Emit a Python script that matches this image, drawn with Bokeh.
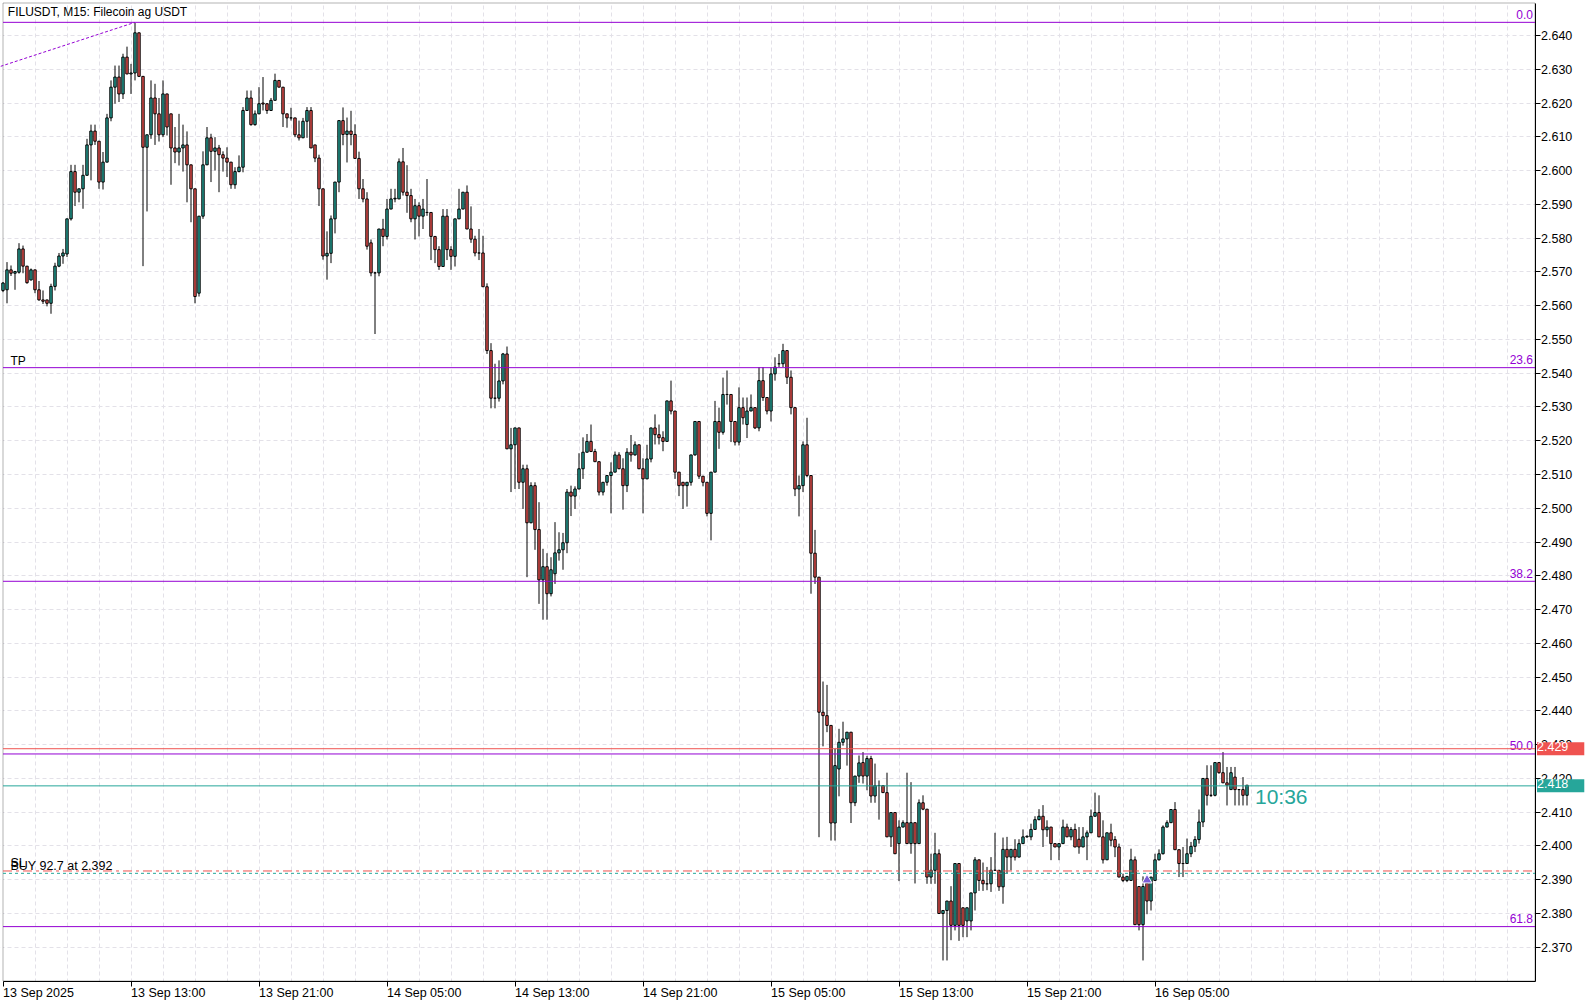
from bokeh.plotting import figure
from bokeh.models import (Range1d, FixedTicker, SingleIntervalTicker, NumeralTickFormatter,
                          Label, ColumnDataSource, BoxAnnotation)
from bokeh.core.properties import value
from bokeh.embed import file_html
from bokeh.resources import INLINE

symbol_title = "FILUSDT, M15:  Filecoin ag USDT"

opens = [
2.5645, 2.5647, 2.5706, 2.5696, 2.5699, 2.5768, 2.5717, 2.5676, 2.5706, 2.5647,
2.5617, 2.5617, 2.5607, 2.5657, 2.5717, 2.5747, 2.5753, 2.5857, 2.5997, 2.5936,
2.5946, 2.5986, 2.6076, 2.6117, 2.6087, 2.5966, 2.6025, 2.6156, 2.6247, 2.6277,
2.6227, 2.6336, 2.6286, 2.6289, 2.6408, 2.6279, 2.6069, 2.6106, 2.6215, 2.6168,
2.6106, 2.6227, 2.6168, 2.6067, 2.6055, 2.6067, 2.6076, 2.6017, 2.5946, 2.5637,
2.5865, 2.6017, 2.6097, 2.6057, 2.6067, 2.6047, 2.6037, 2.6025, 2.5958, 2.5997,
2.6010, 2.6178, 2.6215, 2.6136, 2.6168, 2.6200, 2.6198, 2.6178, 2.6208, 2.6267,
2.6247, 2.6168, 2.6156, 2.6156, 2.6106, 2.6097, 2.6146, 2.6178, 2.6076, 2.6037,
2.5946, 2.5747, 2.5755, 2.5857, 2.5966, 2.6148, 2.6107, 2.6117, 2.6107, 2.6036,
2.5946, 2.5916, 2.5786, 2.5697, 2.5697, 2.5827, 2.5805, 2.5886, 2.5916, 2.5916,
2.6026, 2.5936, 2.5926, 2.5857, 2.5896, 2.5865, 2.5876, 2.5876, 2.5805, 2.5766,
2.5716, 2.5865, 2.5766, 2.5746, 2.5857, 2.5886, 2.5936, 2.5827, 2.5797, 2.5756,
2.5756, 2.5656, 2.5467, 2.5326, 2.5326, 2.5377, 2.5457, 2.5176, 2.5188, 2.5238,
2.5077, 2.5117, 2.4957, 2.5067, 2.4937, 2.4788, 2.4827, 2.4747, 2.4806, 2.4868,
2.4877, 2.4898, 2.5048, 2.5036, 2.5057, 2.5117, 2.5166, 2.5198, 2.5168, 2.5138,
2.5048, 2.5077, 2.5097, 2.5107, 2.5158, 2.5117, 2.5067, 2.5166, 2.5158, 2.5188,
2.5117, 2.5087, 2.5146, 2.5238, 2.5218, 2.5209, 2.5198, 2.5318, 2.5288, 2.5107,
2.5077, 2.5067, 2.5077, 2.5158, 2.5257, 2.5095, 2.5077, 2.4985, 2.5107, 2.5257,
2.5225, 2.5337, 2.5337, 2.5257, 2.5196, 2.5298, 2.5248, 2.5288, 2.5298, 2.5238,
2.5378, 2.5328, 2.5288, 2.5398, 2.5428, 2.5428, 2.5467, 2.5388, 2.5298, 2.5057,
2.5067, 2.5188, 2.5097, 2.4867, 2.4796, 2.4396, 2.4386, 2.4357, 2.4068, 2.4228,
2.4307, 2.4317, 2.4337, 2.4128, 2.4207, 2.4247, 2.4207, 2.4259, 2.4148, 2.4179,
2.4179, 2.4158, 2.4027, 2.4099, 2.4007, 2.4056, 2.4069, 2.4007, 2.4069, 2.4007,
2.4128, 2.4109, 2.3908, 2.3928, 2.3977, 2.3800, 2.3809, 2.3837, 2.3765, 2.3948,
2.3817, 2.3778, 2.3778, 2.3861, 2.3959, 2.3898, 2.3888, 2.3888, 2.3928, 2.3928,
2.3879, 2.3990, 2.3967, 2.3990, 2.3967, 2.4007, 2.4027, 2.4027, 2.4049, 2.4078,
2.4088, 2.4048, 2.4056, 2.4007, 2.3997, 2.4007, 2.4056, 2.4027, 2.4049, 2.4020,
2.3997, 2.4027, 2.4039, 2.4088, 2.4099, 2.4027, 2.3959, 2.4039, 2.4019, 2.3997,
2.3908, 2.3898, 2.3898, 2.3959, 2.3880, 2.3767, 2.3890, 2.3837, 2.3898, 2.3959,
2.3977, 2.4056, 2.4069, 2.4108, 2.3989, 2.3948, 2.3948, 2.3977, 2.3999, 2.4019,
2.4071, 2.4200, 2.4150, 2.4150, 2.4247, 2.4217, 2.4187, 2.4167, 2.4204, 2.4167,
2.4167, 2.4150,
]

highs = [
2.5670, 2.5729, 2.5719, 2.5703, 2.5785, 2.5778, 2.5717, 2.5710, 2.5706, 2.5673,
2.5645, 2.5617, 2.5665, 2.5727, 2.5756, 2.5768, 2.5857, 2.6017, 2.6017, 2.5946,
2.6017, 2.6094, 2.6136, 2.6136, 2.6087, 2.6055, 2.6168, 2.6267, 2.6311, 2.6311,
2.6346, 2.6367, 2.6316, 2.6437, 2.6408, 2.6279, 2.6106, 2.6267, 2.6257, 2.6215,
2.6267, 2.6227, 2.6168, 2.6129, 2.6168, 2.6136, 2.6116, 2.6017, 2.5946, 2.5865,
2.6057, 2.6129, 2.6109, 2.6099, 2.6076, 2.6057, 2.6069, 2.6025, 2.6010, 2.6045,
2.6188, 2.6237, 2.6237, 2.6178, 2.6247, 2.6277, 2.6198, 2.6215, 2.6287, 2.6267,
2.6247, 2.6168, 2.6186, 2.6156, 2.6148, 2.6156, 2.6188, 2.6188, 2.6076, 2.6047,
2.5946, 2.5820, 2.5867, 2.5966, 2.6148, 2.6187, 2.6157, 2.6177, 2.6137, 2.6056,
2.5975, 2.5936, 2.5796, 2.5700, 2.5827, 2.5857, 2.5916, 2.5946, 2.5946, 2.6036,
2.6067, 2.6016, 2.5946, 2.5916, 2.5906, 2.5916, 2.5975, 2.5876, 2.5805, 2.5776,
2.5886, 2.5886, 2.5776, 2.5857, 2.5946, 2.5936, 2.5956, 2.5894, 2.5807, 2.5827,
2.5807, 2.5666, 2.5489, 2.5428, 2.5438, 2.5460, 2.5479, 2.5238, 2.5238, 2.5238,
2.5129, 2.5129, 2.5077, 2.5077, 2.5018, 2.4880, 2.4867, 2.4855, 2.4959, 2.4929,
2.4927, 2.5057, 2.5067, 2.5065, 2.5163, 2.5210, 2.5220, 2.5248, 2.5176, 2.5138,
2.5077, 2.5097, 2.5136, 2.5168, 2.5166, 2.5148, 2.5178, 2.5217, 2.5198, 2.5188,
2.5148, 2.5188, 2.5238, 2.5278, 2.5248, 2.5228, 2.5318, 2.5378, 2.5288, 2.5107,
2.5077, 2.5077, 2.5158, 2.5257, 2.5257, 2.5095, 2.5077, 2.5107, 2.5318, 2.5298,
2.5387, 2.5408, 2.5337, 2.5257, 2.5358, 2.5328, 2.5328, 2.5337, 2.5298, 2.5418,
2.5418, 2.5328, 2.5418, 2.5447, 2.5457, 2.5487, 2.5467, 2.5408, 2.5298, 2.5097,
2.5198, 2.5268, 2.5097, 2.4936, 2.4796, 2.4487, 2.4477, 2.4357, 2.4288, 2.4347,
2.4368, 2.4337, 2.4337, 2.4207, 2.4268, 2.4278, 2.4267, 2.4267, 2.4244, 2.4194,
2.4179, 2.4217, 2.4099, 2.4099, 2.4076, 2.4076, 2.4217, 2.4189, 2.4069, 2.4138,
2.4150, 2.4109, 2.3977, 2.4039, 2.3990, 2.3809, 2.3837, 2.3881, 2.3948, 2.3948,
2.3817, 2.3817, 2.3861, 2.3967, 2.3959, 2.3951, 2.3938, 2.3967, 2.4039, 2.3928,
2.4025, 2.4027, 2.3990, 2.4020, 2.4020, 2.4049, 2.4031, 2.4066, 2.4088, 2.4109,
2.4121, 2.4076, 2.4056, 2.4007, 2.4007, 2.4078, 2.4066, 2.4056, 2.4066, 2.4056,
2.4056, 2.4046, 2.4108, 2.4158, 2.4150, 2.4076, 2.4039, 2.4066, 2.4029, 2.4007,
2.3918, 2.3910, 2.3992, 2.3969, 2.3880, 2.3910, 2.3910, 2.3908, 2.3977, 2.3990,
2.4061, 2.4076, 2.4109, 2.4130, 2.3989, 2.3997, 2.4022, 2.4012, 2.4029, 2.4108,
2.4200, 2.4239, 2.4239, 2.4247, 2.4247, 2.4278, 2.4234, 2.4234, 2.4234, 2.4167,
2.4204, 2.4180,
]

lows = [
2.5640, 2.5607, 2.5688, 2.5647, 2.5695, 2.5696, 2.5665, 2.5675, 2.5637, 2.5615,
2.5605, 2.5598, 2.5576, 2.5645, 2.5714, 2.5724, 2.5744, 2.5852, 2.5895, 2.5906,
2.5887, 2.5986, 2.5971, 2.6076, 2.5946, 2.5944, 2.6025, 2.6146, 2.6198, 2.6203,
2.6212, 2.6286, 2.6227, 2.6267, 2.6277, 2.5717, 2.5879, 2.6094, 2.6076, 2.6086,
2.6099, 2.6104, 2.5958, 2.6022, 2.6015, 2.5997, 2.5906, 2.5847, 2.5607, 2.5627,
2.5857, 2.6017, 2.5966, 2.6000, 2.5936, 2.5997, 2.5981, 2.5946, 2.5946, 2.5995,
2.5995, 2.6178, 2.6133, 2.6133, 2.6168, 2.6178, 2.6168, 2.6178, 2.6208, 2.6247,
2.6129, 2.6127, 2.6148, 2.6099, 2.6089, 2.6097, 2.6097, 2.6067, 2.6025, 2.5895,
2.5736, 2.5677, 2.5726, 2.5814, 2.5936, 2.6075, 2.6024, 2.6075, 2.6036, 2.5916,
2.5906, 2.5766, 2.5687, 2.5516, 2.5687, 2.5776, 2.5796, 2.5886, 2.5906, 2.5916,
2.5926, 2.5875, 2.5847, 2.5796, 2.5805, 2.5827, 2.5866, 2.5735, 2.5726, 2.5706,
2.5716, 2.5735, 2.5706, 2.5716, 2.5857, 2.5886, 2.5827, 2.5786, 2.5746, 2.5735,
2.5656, 2.5457, 2.5296, 2.5296, 2.5316, 2.5367, 2.5176, 2.5048, 2.5057, 2.5057,
2.4998, 2.4796, 2.4956, 2.4877, 2.4717, 2.4670, 2.4670, 2.4739, 2.4776, 2.4845,
2.4818, 2.4867, 2.4977, 2.4998, 2.5057, 2.5087, 2.5166, 2.5168, 2.5138, 2.5038,
2.5038, 2.5067, 2.4985, 2.5107, 2.5117, 2.4996, 2.5048, 2.5138, 2.5156, 2.5117,
2.4985, 2.5087, 2.5136, 2.5189, 2.5189, 2.5169, 2.5198, 2.5278, 2.5087, 2.5036,
2.4998, 2.5005, 2.5067, 2.5156, 2.5087, 2.5065, 2.4976, 2.4905, 2.5107, 2.5176,
2.5218, 2.5307, 2.5196, 2.5186, 2.5186, 2.5248, 2.5208, 2.5288, 2.5235, 2.5228,
2.5318, 2.5278, 2.5257, 2.5378, 2.5418, 2.5418, 2.5368, 2.5278, 2.5036, 2.4976,
2.5048, 2.5092, 2.4747, 2.4776, 2.4026, 2.4295, 2.4337, 2.4016, 2.4016, 2.4147,
2.4297, 2.4238, 2.4068, 2.4118, 2.4187, 2.4185, 2.4165, 2.4128, 2.4128, 2.4078,
2.4158, 2.4027, 2.3997, 2.3977, 2.3896, 2.4056, 2.4007, 2.3977, 2.3889, 2.4007,
2.4106, 2.3888, 2.3888, 2.3888, 2.3800, 2.3661, 2.3661, 2.3721, 2.3750, 2.3719,
2.3730, 2.3730, 2.3750, 2.3809, 2.3867, 2.3867, 2.3869, 2.3864, 2.3928, 2.3867,
2.3829, 2.3918, 2.3928, 2.3957, 2.3967, 2.4007, 2.4024, 2.4017, 2.4048, 2.4076,
2.3997, 2.4027, 2.3958, 2.3997, 2.3958, 2.4007, 2.4027, 2.4017, 2.3997, 2.3977,
2.3997, 2.3958, 2.4039, 2.4088, 2.4027, 2.3948, 2.3959, 2.3999, 2.3967, 2.3908,
2.3893, 2.3893, 2.3898, 2.3767, 2.3750, 2.3661, 2.3798, 2.3809, 2.3898, 2.3957,
2.3975, 2.4056, 2.4069, 2.3989, 2.3908, 2.3908, 2.3948, 2.3967, 2.3982, 2.4007,
2.4056, 2.4120, 2.4145, 2.4147, 2.4214, 2.4187, 2.4120, 2.4167, 2.4120, 2.4120,
2.4120, 2.4120,
]

closes = [
2.5667, 2.5706, 2.5696, 2.5701, 2.5768, 2.5717, 2.5668, 2.5706, 2.5647, 2.5617,
2.5613, 2.5607, 2.5657, 2.5717, 2.5747, 2.5756, 2.5857, 2.5997, 2.5936, 2.5946,
2.5986, 2.6076, 2.6117, 2.6087, 2.5966, 2.6025, 2.6156, 2.6247, 2.6277, 2.6227,
2.6336, 2.6286, 2.6289, 2.6408, 2.6279, 2.6069, 2.6106, 2.6215, 2.6168, 2.6106,
2.6227, 2.6129, 2.6067, 2.6055, 2.6067, 2.6076, 2.6017, 2.5946, 2.5627, 2.5865,
2.6017, 2.6097, 2.6057, 2.6067, 2.6047, 2.6037, 2.6025, 2.5958, 2.5997, 2.6010,
2.6178, 2.6215, 2.6136, 2.6168, 2.6198, 2.6197, 2.6178, 2.6208, 2.6267, 2.6247,
2.6168, 2.6156, 2.6156, 2.6106, 2.6097, 2.6146, 2.6178, 2.6067, 2.6037, 2.5946,
2.5747, 2.5755, 2.5857, 2.5966, 2.6148, 2.6107, 2.6117, 2.6107, 2.6036, 2.5946,
2.5916, 2.5776, 2.5697, 2.5697, 2.5827, 2.5805, 2.5886, 2.5916, 2.5918, 2.6026,
2.5936, 2.5926, 2.5857, 2.5896, 2.5865, 2.5886, 2.5876, 2.5805, 2.5766, 2.5716,
2.5865, 2.5766, 2.5746, 2.5857, 2.5886, 2.5936, 2.5827, 2.5797, 2.5756, 2.5756,
2.5656, 2.5467, 2.5326, 2.5326, 2.5377, 2.5457, 2.5176, 2.5188, 2.5238, 2.5077,
2.5117, 2.4957, 2.5067, 2.4937, 2.4788, 2.4827, 2.4747, 2.4818, 2.4868, 2.4877,
2.4898, 2.5048, 2.5036, 2.5057, 2.5117, 2.5166, 2.5198, 2.5168, 2.5138, 2.5048,
2.5077, 2.5097, 2.5107, 2.5158, 2.5117, 2.5067, 2.5166, 2.5158, 2.5188, 2.5117,
2.5087, 2.5146, 2.5238, 2.5218, 2.5209, 2.5198, 2.5318, 2.5288, 2.5107, 2.5067,
2.5067, 2.5077, 2.5158, 2.5257, 2.5095, 2.5077, 2.4985, 2.5107, 2.5257, 2.5225,
2.5337, 2.5337, 2.5257, 2.5196, 2.5298, 2.5268, 2.5288, 2.5298, 2.5238, 2.5378,
2.5328, 2.5288, 2.5398, 2.5418, 2.5428, 2.5467, 2.5388, 2.5298, 2.5057, 2.5067,
2.5188, 2.5097, 2.4867, 2.4796, 2.4396, 2.4386, 2.4357, 2.4068, 2.4238, 2.4307,
2.4317, 2.4337, 2.4128, 2.4207, 2.4246, 2.4207, 2.4259, 2.4148, 2.4179, 2.4179,
2.4158, 2.4027, 2.4099, 2.3977, 2.4056, 2.4069, 2.4007, 2.4069, 2.4007, 2.4128,
2.4109, 2.3908, 2.3928, 2.3977, 2.3800, 2.3809, 2.3837, 2.3765, 2.3948, 2.3765,
2.3765, 2.3817, 2.3861, 2.3959, 2.3898, 2.3888, 2.3888, 2.3928, 2.3928, 2.3879,
2.3990, 2.3967, 2.3990, 2.3967, 2.4007, 2.4027, 2.4029, 2.4049, 2.4078, 2.4088,
2.4048, 2.4056, 2.4007, 2.3997, 2.4007, 2.4056, 2.4027, 2.4049, 2.3997, 2.3997,
2.4027, 2.4039, 2.4088, 2.4099, 2.4027, 2.3959, 2.4039, 2.4017, 2.3997, 2.3908,
2.3898, 2.3910, 2.3959, 2.3767, 2.3767, 2.3880, 2.3837, 2.3908, 2.3959, 2.3977,
2.4056, 2.4069, 2.4108, 2.3989, 2.3948, 2.3948, 2.3977, 2.3999, 2.4019, 2.4071,
2.4200, 2.4150, 2.4150, 2.4247, 2.4217, 2.4187, 2.4180, 2.4217, 2.4167, 2.4167,
2.4150, 2.4180,
]

tick_bars = [0, 32, 64, 96, 128, 160, 192, 224, 256, 288]
tick_labels = ["13 Sep 2025", "13 Sep 13:00", "13 Sep 21:00", "14 Sep 05:00", "14 Sep 13:00",
               "14 Sep 21:00", "15 Sep 05:00", "15 Sep 13:00", "15 Sep 21:00", "16 Sep 05:00"]

fib_high_bar, fib_high = 33, 2.6439
fib_low_bar, fib_low = -1084, 2.2106
fib_ratios = [0.0, 0.236, 0.382, 0.5, 0.618]
fib_names = ["0.0", "23.6", "38.2", "50.0", "61.8"]

ask_price = 2.4288
bid_price = 2.4178
sl_price = 2.3926
entry_price = 2.3919
tp_price = 2.5416
order_text = "BUY 92.7 at 2.392"
countdown = "10:36"
buy_bar, buy_arrow_price = 286, 2.3899

BULL = "#26a69a"
BEAR = "#ef5350"
FIB = "#9400d3"
GRID = "#e3e1e8"
FONT = "Liberation Sans"

n = len(opens)
bars = list(range(n))
highs = [max(h, o, c) for h, o, c in zip(highs, opens, closes)]
lows = [min(l, o, c) for l, o, c in zip(lows, opens, closes)]

# ---- canvas geometry (pixels <-> data) ----
W, H = 1588, 1003
BAR_PX = 4.0          # pixels per bar
PRICE_PX = 3377.0     # pixels per 1.0 of price
x_start = -2.5 / BAR_PX
x_end = x_start + W / BAR_PX
y_end = 2.640 + 35 / PRICE_PX
y_start = y_end - H / PRICE_PX

# chart box (inside the canvas)
x_left = x_start + 2.5 / BAR_PX
x_right = x_start + 1534.5 / BAR_PX
y_top = y_end - 2.5 / PRICE_PX
y_bottom = y_end - 980.5 / PRICE_PX

p = figure(width=W, height=H,
           x_range=Range1d(x_start, x_end), y_range=Range1d(y_start, y_end),
           y_axis_location="right", output_backend="svg", toolbar_location=None,
           min_border_left=0, min_border_top=0, min_border_right=0, min_border_bottom=0,
           background_fill_color="white", border_fill_color="white")
p.outline_line_color = None

# ---- axes, placed on the chart box edges ----
yticker = SingleIntervalTicker(interval=0.01, num_minor_ticks=0)
yax = p.yaxis[0]
yax.ticker = yticker
yax.formatter = NumeralTickFormatter(format="0.000")
yax.fixed_location = x_right
yax.bounds = (y_bottom, y_top)
yax.major_tick_out = 5
yax.major_tick_in = 0
yax.minor_tick_out = 0
yax.minor_tick_in = 0
yax.major_label_standoff = 1
yax.major_label_text_font = FONT
yax.major_label_text_font_size = "12.5px"
yax.major_label_text_color = "black"
yax.axis_line_color = "black"
yax.major_tick_line_color = "black"

xax = p.xaxis[0]
xax.ticker = FixedTicker(ticks=tick_bars)
xax.major_label_overrides = {t: "" for t in tick_bars}
xax.fixed_location = y_bottom
xax.bounds = (x_left, x_right)
xax.major_tick_out = 5
xax.major_tick_in = 0
xax.minor_tick_out = 0
xax.minor_tick_in = 0
xax.axis_line_color = "black"
xax.major_tick_line_color = "black"

p.xgrid.ticker = FixedTicker(ticks=list(range(8, int(x_right) + 1, 8)))
p.ygrid.ticker = yticker
for g in (p.xgrid, p.ygrid):
    g.grid_line_color = GRID
    g.grid_line_dash = "4 3"
    g.grid_line_width = 1

# keep the grid inside the chart box
for kw in (dict(left=x_right), dict(top=y_bottom), dict(right=x_left), dict(bottom=y_top)):
    p.add_layout(BoxAnnotation(fill_color="white", fill_alpha=1.0, line_color=None,
                               level="underlay", **kw))
p.add_layout(BoxAnnotation(left=x_left, right=x_right, top=y_top, bottom=y_bottom,
                           fill_alpha=0.0, line_color="black", line_width=1,
                           level="underlay"))

# ---- candles ----
src = ColumnDataSource(dict(
    x=bars, high=highs, low=lows,
    top=[max(o, c) for o, c in zip(opens, closes)],
    bottom=[min(o, c) for o, c in zip(opens, closes)],
    color=[BULL if c >= o else BEAR for o, c in zip(opens, closes)],
))
p.segment(x0="x", y0="low", x1="x", y1="high", source=src, line_color="black", line_width=1)
p.vbar(x="x", width=0.6, top="top", bottom="bottom", source=src,
       fill_color="color", line_color="black", line_width=1)

# ---- fibonacci object ----
p.line(x=[fib_low_bar, fib_high_bar], y=[fib_low, fib_high], line_color=FIB,
       line_width=1, line_dash="3 2")
fib_levels = [fib_high - r * (fib_high - fib_low) for r in fib_ratios]
k = len(fib_levels)
p.segment(x0=[x_left] * k, x1=[x_right] * k, y0=fib_levels, y1=fib_levels,
          line_color=FIB, line_width=1)
p.text(x=[x_right] * k, y=fib_levels, text=fib_names,
       text_align="right", text_baseline="alphabetic", x_offset=-2, y_offset=-8,
       text_font=value(FONT), text_font_size="12px", text_color=FIB)

# ---- price / trade lines ----
p.segment(x0=[x_left] * 2, x1=[x_right] * 2, y0=[ask_price, bid_price],
          y1=[ask_price, bid_price], line_color=[BEAR, BULL], line_width=1)
p.segment(x0=[x_left], x1=[x_right], y0=[sl_price], y1=[sl_price],
          line_color=BEAR, line_width=1, line_dash="9 4 3 4")
p.segment(x0=[x_left], x1=[x_right], y0=[entry_price], y1=[entry_price],
          line_color=BULL, line_width=1, line_dash="3 3")

txt = dict(text_font=value(FONT), text_color="black",
           text_align="left", text_baseline="alphabetic")
p.text(x=[x_left], y=[tp_price], text=["TP"], x_offset=7.5, y_offset=-7,
       text_font_size="12px", **txt)
p.text(x=[x_left], y=[sl_price], text=["SL"], x_offset=7.5, y_offset=-8,
       text_font_size="12.5px", **txt)
p.text(x=[x_left], y=[entry_price], text=[order_text], x_offset=7.5, y_offset=-7,
       text_font_size="12.5px", **txt)

# header
p.text(x=[x_left], y=[y_top], text=[symbol_title], x_offset=4.8, y_offset=8.5,
       text_font_size="12px", **txt)

# time labels, left aligned at their ticks
p.text(x=tick_bars, y=[y_bottom] * len(tick_bars), text=tick_labels, x_offset=0, y_offset=12,
       text_font_size="12.5px", **txt)

# countdown to the next bar
p.text(x=[bars[-1]], y=[bid_price], text=[countdown], x_offset=8, y_offset=10.5,
       text_baseline="alphabetic", text_align="left", text_font=value(FONT),
       text_font_size="21px", text_color=BULL)

# buy arrow
p.scatter(x=[buy_bar], y=[buy_arrow_price], marker="triangle", size=10,
          fill_color="#7b5cd6", line_color="white", line_width=1)

# price boxes on the axis
for price, col in ((ask_price, BEAR), (bid_price, BULL)):
    lab = Label(x=x_right, y=price, text=f"{price:.3f}", x_offset=2,
                text_align="left", text_baseline="middle", text_color="white",
                text_font=FONT, text_font_size="12.5px",
                background_fill_color=col, background_fill_alpha=1.0)
    try:
        lab.padding = (0, 16, 0, 4)
    except Exception:
        lab.padding = 2
    p.add_layout(lab)

open("out.html", "w").write(file_html(p, INLINE, title="FILUSDT M15"))
